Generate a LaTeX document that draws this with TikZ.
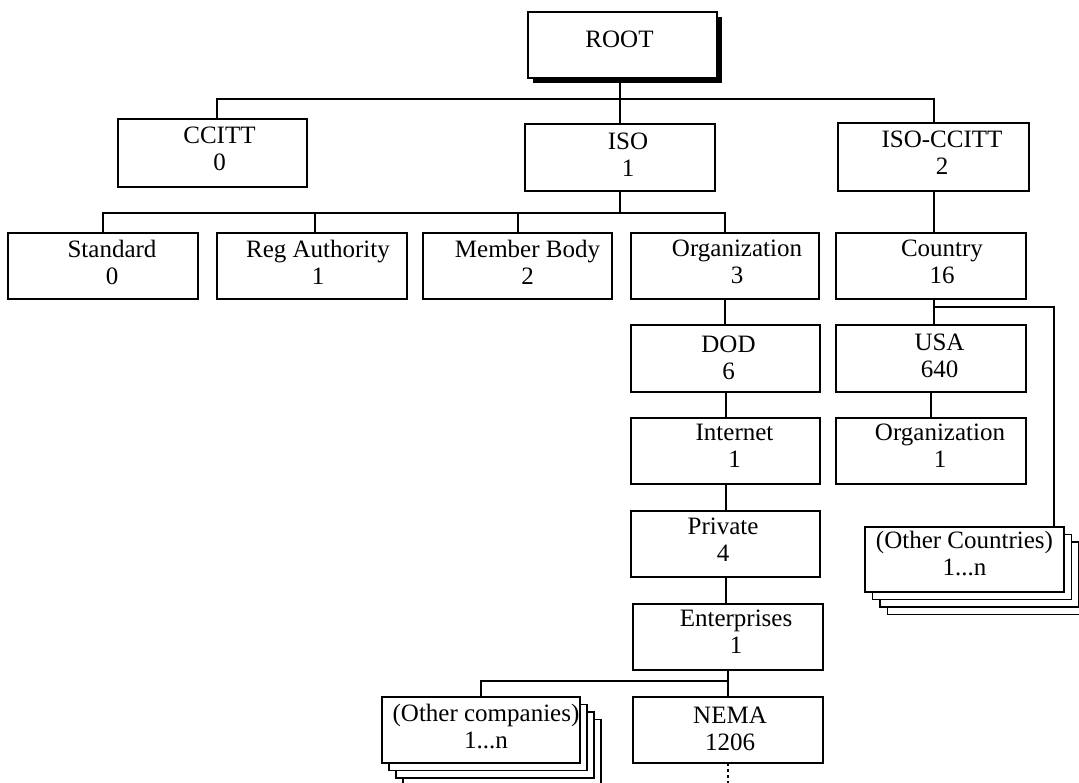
\documentclass[tikz,border=0pt]{standalone}
\usepackage{fontspec}
\setmainfont{Liberation Serif}
\usetikzlibrary{backgrounds}
\begin{document}
\begin{tikzpicture}[x=1pt,y=-1pt,
  box/.style={draw, line width=1.9pt, fill=white, inner sep=0pt, outer sep=0pt},
  thinbox/.style={box, line width=1.1pt},
  txt/.style={align=center, inner sep=0pt, font=\fontsize{25}{27}\selectfont},
  conn/.style={line width=2pt},
  dotconn/.style={line width=1.8pt, dash pattern=on 3pt off 3pt},
  stack/.style={line width=1.9pt, fill=white}
]
\useasboundingbox (0,0) rectangle (1079,783);
\clip (0,0) rectangle (1079,783);

% boxes
\node[box, minimum width=189pt, minimum height=66pt] (ROOT) at (622.5,45) {};
\node[box, minimum width=189pt, minimum height=68pt] (CCITT) at (212.5,153) {};
\node[box, minimum width=190pt, minimum height=67pt] (ISO) at (620,157.5) {};
\node[box, minimum width=191pt, minimum height=68pt] (ISOCCITT) at (933.5,157) {};
\node[box, minimum width=190pt, minimum height=66pt] (Standard) at (103,266) {};
\node[box, minimum width=190pt, minimum height=66pt] (RegAuth) at (312,266) {};
\node[box, minimum width=189pt, minimum height=66pt] (Member) at (517.5,266) {};
\node[box, minimum width=188pt, minimum height=66pt] (Org) at (725,266) {};
\node[box, minimum width=190pt, minimum height=66pt] (Country) at (931,266) {};
\node[box, minimum width=189pt, minimum height=67pt] (DOD) at (725.5,358.5) {};
\node[box, minimum width=190pt, minimum height=67pt] (USA) at (931,358.5) {};
\node[box, minimum width=189pt, minimum height=66pt] (Internet) at (725.5,451) {};
\node[box, minimum width=190pt, minimum height=66pt] (OrgOne) at (931,451) {};
\node[box, minimum width=189pt, minimum height=66pt] (Private) at (725.5,544) {};
\node[box, minimum width=190pt, minimum height=66pt] (Enterprises) at (728,637) {};
\node[thinbox, minimum width=190pt, minimum height=66pt] (NEMA) at (728,730) {};
\node[box, minimum width=198pt, minimum height=66pt] (OC) at (481,730) {};
\node[box, minimum width=199pt, minimum height=65pt] (OCo) at (964.5,559.5) {};

% texts
\node[txt] (tROOT) at ([shift={(-3pt,6pt)}]ROOT.center) {ROOT};
\node[txt] (tCCITT) at ([shift={(7pt,4pt)}]CCITT.center) {CCITT\\0};
\node[txt] (tISO) at ([shift={(8pt,3pt)}]ISO.center) {ISO\\1};
\node[txt] (tISOCCITT) at ([shift={(8.5pt,4pt)}]ISOCCITT.center) {ISO-CCITT\\2};
\node[txt] (tStandard) at ([shift={(9pt,4pt)}]Standard.center) {Standard\\0};
\node[txt] (tRegAuth) at ([shift={(6pt,4pt)}]RegAuth.center) {Reg Authority\\1};
\node[txt] (tMember) at ([shift={(10pt,4pt)}]Member.center) {Member Body\\2};
\node[txt] (tOrg) at ([shift={(12pt,4pt)}]Org.center) {Organization\\3};
\node[txt] (tCountry) at ([shift={(11pt,4pt)}]Country.center) {Country\\16};
\node[txt] (tDOD) at ([shift={(3pt,1pt)}]DOD.center) {DOD\\6};
\node[txt] (tUSA) at ([shift={(8.5pt,3pt)}]USA.center) {USA\\640};
\node[txt] (tInternet) at ([shift={(9pt,5pt)}]Internet.center) {Internet\\1};
\node[txt] (tOrgOne) at ([shift={(9pt,5pt)}]OrgOne.center) {Organization\\1};
\node[txt] (tPrivate) at ([shift={(-2.5pt,4pt)}]Private.center) {Private\\4};
\node[txt] (tEnterprises) at ([shift={(8pt,5pt)}]Enterprises.center) {Enterprises\\1};
\node[txt] (tNEMA) at ([shift={(2pt,1pt)}]NEMA.center) {NEMA\\1206};
\node[txt] (tOC) at ([shift={(5pt,3pt)}]OC.center) {(Other companies)\\1...n};
\node[txt] (tOCo) at ([shift={(0pt,6pt)}]OCo.center) {(Other Countries)\\1...n};

% connectors
\draw[conn] (ISO.north |- ROOT.south) -- (ISO.north);
\draw[conn] ([xshift=4.5pt]CCITT.north) -- ++(0,-20) -| (ISOCCITT.north);
\draw[conn] (ISO.south) -- ++(0,22);
\draw[conn] (Standard.north) -- ++(0,-20) -| (Org.north);
\draw[conn] ([xshift=3pt]RegAuth.north) -- ++(0,-20);
\draw[conn] (Member.north) -- ++(0,-20);
\draw[conn] (Org.south) -- (Org.south |- DOD.north);
\draw[conn] (DOD.south) -- (Internet.north);
\draw[conn] (Internet.south) -- (Private.north);
\draw[conn] (Private.south) -- (Private.south |- Enterprises.north);
\draw[conn] (OC.north) -- ++(0,-16) -| (NEMA.north);
\draw[conn] (Enterprises.south) -- (NEMA.north);
\coordinate (nemaEnd) at (728,783);
\draw[dotconn] (NEMA.south) -- (nemaEnd);
\draw[conn] (ISOCCITT.south) -- (ISOCCITT.south |- Country.north);
\draw[conn] (ISOCCITT.south |- Country.south) -- (ISOCCITT.south |- USA.north);
\draw[conn] (USA.south) -- (OrgOne.north);
\draw[conn] ([yshift=-8pt]ISOCCITT.south |- Country.south) -| ([xshift=-10pt]OCo.north east);

% shadows and stacks
\begin{scope}[on background layer]
\fill ([shift={(5,5)}]ROOT.south west) rectangle ([shift={(5,5)}]ROOT.north east);
\foreach \k in {3,2,1} {
  \draw[stack] ([shift={({7*\k},{7.5*\k})}]OC.south west) rectangle ([shift={({7*\k},{7.5*\k})}]OC.north east);
  \draw[stack] ([shift={({7.5*\k},{7.5*\k})}]OCo.south west) rectangle ([shift={({7.5*\k},{7.5*\k})}]OCo.north east);
}
\end{scope}
\end{tikzpicture}
\end{document}
